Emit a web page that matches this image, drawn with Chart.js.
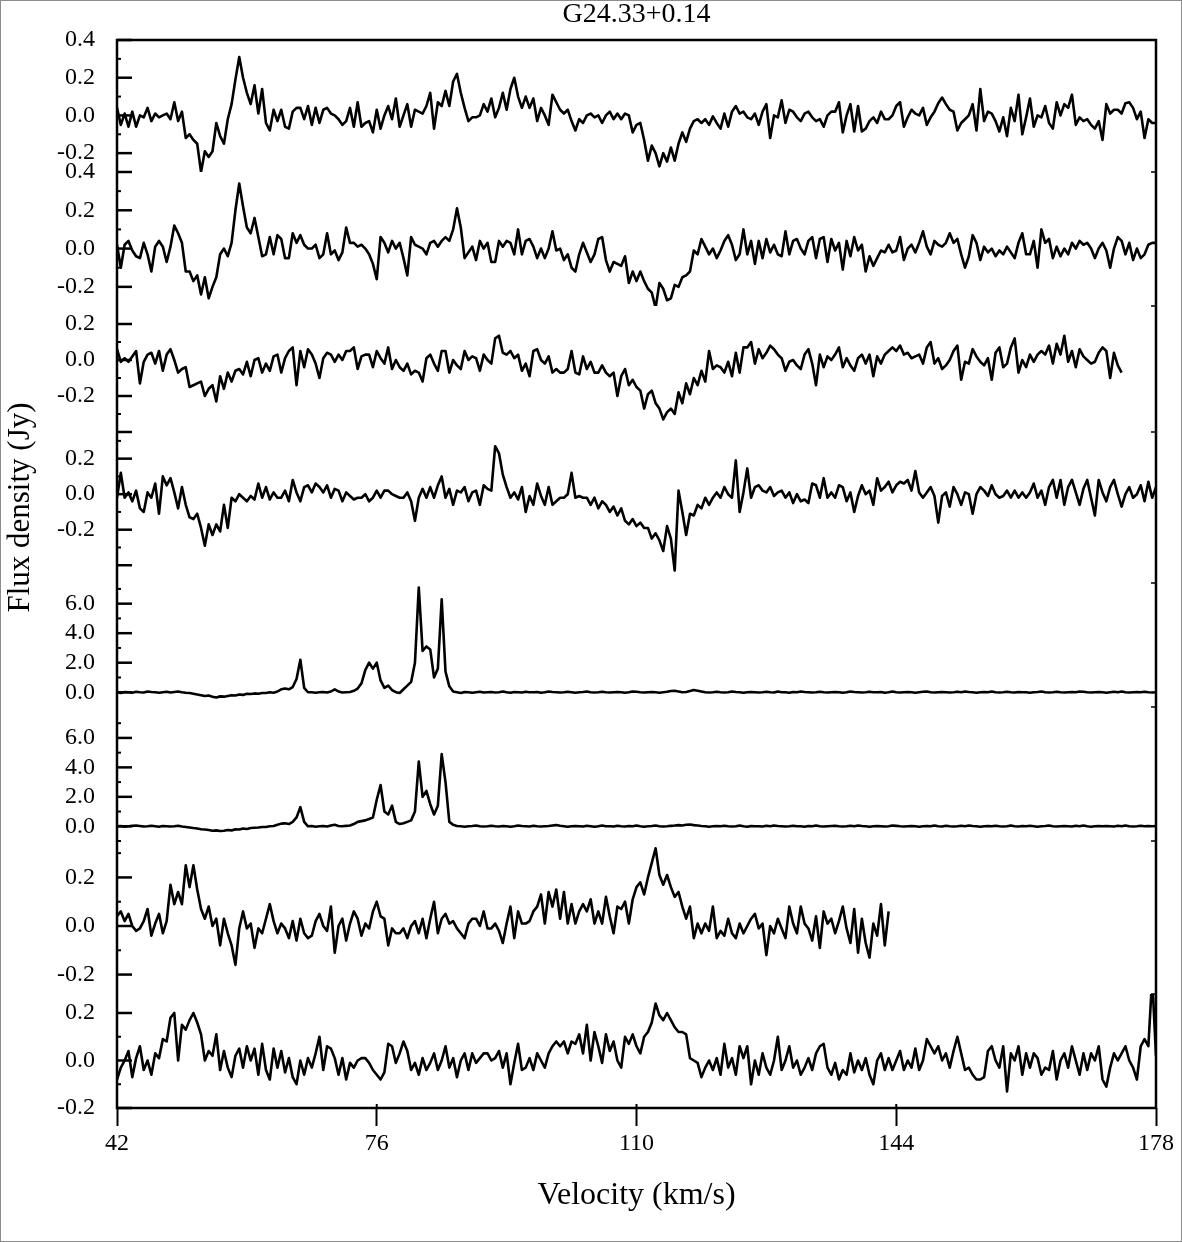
<!DOCTYPE html>
<html>
<head>
<meta charset="utf-8">
<title>G24.33+0.14</title>
<script src="https://cdn.jsdelivr.net/npm/chart.js@4.4.1/dist/chart.umd.min.js"></script>
<style>
    html, body { margin: 0; padding: 0; background: #fff; }
    #frame { width: 1180px; height: 1240px; border: 1px solid #8c8c8c; }
    canvas { display: block; }
</style>
</head>
<body>
<div id="frame"><canvas id="spectraChart" width="1180" height="1240"></canvas></div>
<script>
// Velocity channels: first channel and channel width (km/s)
const V_START = 42;
const V_STEP = 0.5;
const velocityTicks = [42, 76, 110, 144, 178];

// Flux density (Jy) per panel, top to bottom, one value per channel
const flux1 = [
    0.04, -0.05, 0.01, -0.06, 0.02, -0.06, 0.0, -0.01, 0.04, -0.03,
    0.01, -0.01, 0.0, 0.01, -0.02, 0.07, -0.03, 0.02, -0.12, -0.1,
    -0.13, -0.15, -0.3, -0.19, -0.22, -0.19, -0.04, -0.11, -0.15, -0.02,
    0.06, 0.19, 0.31, 0.2, 0.12, 0.06, 0.16, 0.01, 0.14, -0.04,
    -0.08, 0.03, -0.03, 0.03, -0.06, -0.07, 0.02, 0.04, 0.04, -0.02,
    0.05, -0.05, 0.04, -0.04, 0.03, 0.04, 0.01, 0.0, -0.02, -0.05,
    -0.03, 0.04, -0.06, 0.07, -0.06, -0.04, -0.03, -0.09, 0.03, -0.07,
    0.0, 0.05, -0.02, 0.09, -0.06, 0.0, 0.06, -0.06, 0.03, 0.02,
    0.01, 0.05, 0.12, -0.07, 0.07, 0.05, 0.13, 0.05, 0.18, 0.22,
    0.12, 0.04, -0.03, -0.01, -0.01, 0.0, 0.06, 0.02, 0.09, -0.01,
    0.04, 0.12, 0.03, 0.14, 0.2, 0.1, 0.04, 0.1, 0.04, 0.09,
    -0.03, 0.04, 0.0, -0.05, 0.11, 0.07, 0.03, 0.01, 0.03, -0.03,
    -0.08, -0.02, -0.04, 0.0, 0.01, -0.01, 0.0, -0.04, 0.0, 0.02,
    -0.02, 0.01, -0.02, 0.01, 0.0, -0.09, -0.05, -0.04, -0.13, -0.24,
    -0.16, -0.2, -0.27, -0.2, -0.245, -0.17, -0.24, -0.15, -0.09, -0.14,
    -0.07, -0.03, -0.02, -0.04, -0.02, -0.05, -0.005, -0.04, -0.07, 0.01,
    -0.06, 0.02, 0.05, 0.01, 0.02, -0.01, -0.02, 0.01, -0.05, 0.02,
    0.06, -0.12, 0.0, -0.01, 0.08, -0.04, 0.03, 0.02, -0.01, -0.03,
    0.01, 0.02, -0.01, -0.03, -0.02, -0.06, 0.0, 0.02, 0.02, 0.07,
    -0.09, 0.0, 0.06, -0.085, 0.05, -0.085, -0.07, -0.03, -0.01, -0.04,
    0.02, -0.02, -0.02, 0.0, 0.05, 0.07, -0.06, -0.01, 0.03, 0.01,
    0.0, 0.04, -0.05, -0.01, 0.02, 0.065, 0.095, 0.06, 0.03, 0.02,
    -0.08, -0.04, -0.02, 0.0, 0.06, -0.08, 0.14, -0.03, 0.02, 0.01,
    -0.03, -0.085, -0.01, -0.11, 0.04, -0.03, 0.11, -0.1, -0.01, 0.09,
    -0.06, 0.0, -0.01, 0.05, -0.04, -0.07, 0.07, 0.0, 0.06, 0.04,
    0.11, -0.05, -0.01, -0.03, -0.02, -0.05, -0.07, -0.03, -0.13, 0.06,
    0.01, 0.03, 0.03, 0.01, 0.065, 0.07, 0.04, -0.02, 0.02, -0.12,
    -0.02, -0.04, -0.04
];
const flux2 = [
    0.02, -0.1, 0.02, 0.04, -0.01, -0.04, -0.05, 0.03, -0.03, -0.12,
    0.01, 0.04, 0.01, -0.07, 0.01, 0.12, 0.08, 0.03, -0.12, -0.12,
    -0.17, -0.14, -0.24, -0.15, -0.26, -0.2, -0.15, -0.03, 0.0, -0.04,
    0.03, 0.2, 0.34, 0.22, 0.11, 0.08, 0.16, 0.06, -0.04, -0.03,
    0.06, -0.03, 0.07, 0.05, -0.05, -0.05, 0.08, 0.03, 0.07, 0.02,
    0.0, 0.0, 0.02, -0.05, -0.03, 0.08, -0.03, -0.01, -0.06, -0.02,
    0.11, 0.03, 0.03, 0.01, 0.02, 0.0, -0.03, -0.08, -0.16, 0.06,
    0.03, -0.02, 0.04, 0.0, 0.03, -0.05, -0.14, 0.06, 0.02, 0.01,
    0.0, -0.03, 0.03, 0.04, 0.01, 0.04, 0.06, 0.04, 0.1, 0.21,
    0.11, -0.05, -0.02, 0.01, -0.06, 0.04, 0.0, 0.03, -0.07, -0.07,
    0.04, 0.01, 0.04, 0.03, -0.03, 0.1, -0.03, 0.04, 0.05, 0.01,
    -0.05, 0.0, -0.05, 0.0, 0.09, -0.01, 0.0, -0.06, -0.03, -0.1,
    -0.12, -0.03, 0.03, -0.02, -0.07, -0.03, 0.05, 0.06, -0.06, -0.12,
    -0.07, -0.08, -0.09, -0.04, -0.18, -0.12, -0.17, -0.12, -0.17, -0.21,
    -0.23, -0.31, -0.18, -0.21, -0.27, -0.26, -0.19, -0.2, -0.15, -0.14,
    -0.12, -0.01, -0.03, 0.05, 0.01, -0.03, 0.0, -0.05, -0.01, 0.04,
    0.07, 0.02, -0.06, -0.03, 0.1, -0.03, 0.04, -0.08, 0.04, -0.05,
    0.05, -0.02, 0.02, -0.03, -0.04, 0.09, -0.03, 0.04, 0.05, 0.0,
    -0.03, 0.04, 0.06, -0.05, 0.05, 0.06, -0.07, 0.05, -0.01, 0.03,
    -0.11, 0.04, -0.04, 0.06, -0.01, 0.02, -0.12, -0.04, -0.09, -0.05,
    -0.01, -0.02, 0.02, -0.02, -0.01, 0.06, -0.06, 0.0, 0.02, -0.02,
    0.03, 0.09, 0.01, -0.03, 0.04, 0.02, 0.01, 0.03, 0.08, 0.03,
    0.05, -0.03, -0.1, -0.04, 0.07, 0.03, -0.06, 0.01, -0.02, 0.0,
    -0.04, -0.01, -0.03, 0.01, -0.02, -0.05, 0.03, 0.08, -0.03, -0.03,
    0.04, -0.1, 0.1, 0.03, 0.05, -0.05, 0.01, -0.04, 0.0, -0.03,
    0.03, 0.0, 0.04, 0.02, 0.03, 0.0, -0.05, 0.0, 0.03, -0.01,
    -0.1, 0.0, 0.06, 0.04, -0.03, 0.03, -0.06, 0.0, -0.05, -0.03,
    0.02, 0.03, 0.03
];
const flux3 = [
    0.06, -0.01, 0.01, -0.01, 0.02, 0.05, -0.13, -0.01, 0.03, 0.04,
    -0.02, 0.05, -0.06, 0.03, 0.06, 0.0, -0.07, -0.05, -0.04, -0.15,
    -0.14, -0.13, -0.12, -0.2, -0.16, -0.14, -0.23, -0.09, -0.16, -0.07,
    -0.12, -0.06, -0.05, -0.08, -0.01, -0.09, 0.0, 0.01, -0.07, -0.02,
    -0.06, 0.02, 0.03, -0.07, 0.01, 0.05, 0.07, -0.14, 0.05, -0.04,
    0.06, 0.03, -0.02, -0.1, 0.01, 0.04, 0.03, -0.01, 0.03, 0.0,
    0.05, 0.05, 0.07, -0.05, 0.02, 0.03, 0.03, -0.04, 0.05, 0.01,
    -0.02, 0.07, -0.05, 0.0, -0.04, -0.06, -0.02, -0.08, -0.06, -0.07,
    -0.12, 0.01, 0.03, -0.02, -0.06, 0.05, 0.05, -0.07, 0.0, -0.03,
    -0.05, 0.05, 0.0, 0.02, 0.01, -0.06, 0.03, 0.0, -0.02, 0.12,
    0.135, 0.04, 0.03, 0.05, 0.01, 0.03, -0.06, -0.02, -0.09, 0.05,
    0.06, 0.0, -0.02, 0.02, -0.07, -0.05, -0.07, -0.07, -0.05, 0.05,
    -0.07, -0.08, 0.02, -0.05, -0.01, -0.07, -0.07, -0.03, -0.07, -0.09,
    -0.07, -0.2, -0.09, -0.05, -0.14, -0.11, -0.15, -0.17, -0.27, -0.19,
    -0.17, -0.24, -0.27, -0.33, -0.29, -0.27, -0.3, -0.18, -0.24, -0.13,
    -0.19, -0.1, -0.14, -0.06, -0.12, 0.05, -0.05, -0.03, -0.04, -0.07,
    -0.01, -0.09, 0.04, -0.07, 0.07, 0.07, 0.1, -0.02, 0.06, 0.01,
    0.04, 0.08, 0.06, 0.03, 0.01, -0.06, -0.01, 0.0, -0.03, -0.05,
    0.03, 0.06, -0.02, -0.14, 0.03, -0.04, 0.02, 0.0, 0.03, 0.07,
    -0.04, 0.01, -0.03, -0.06, 0.01, 0.03, -0.02, 0.03, -0.09, 0.02,
    -0.02, 0.03, 0.05, 0.07, 0.05, 0.08, 0.03, 0.04, 0.01, 0.02,
    0.03, -0.02, 0.07, 0.1, -0.02, 0.01, -0.05, -0.03, 0.0, 0.05,
    0.08, -0.11, -0.01, -0.02, 0.06, 0.02, -0.01, -0.03, 0.01, -0.11,
    0.04, 0.07, -0.04, -0.02, 0.07, 0.12, -0.07, 0.0, -0.04, 0.03,
    -0.01, 0.03, 0.05, 0.03, 0.08, -0.02, 0.09, 0.03, 0.135, -0.01,
    0.05, -0.04, 0.06, 0.02, 0.0, -0.02, -0.01, 0.04, 0.07, 0.05,
    -0.1, 0.04, -0.03, -0.07
];
const flux4 = [
    -0.02, 0.12, -0.02, 0.01, -0.04, 0.02, -0.08, -0.1, 0.01, -0.02,
    0.06, -0.11, 0.1, 0.05, 0.09, 0.01, -0.08, 0.04, -0.06, -0.13,
    -0.14, -0.11, -0.19, -0.29, -0.17, -0.23, -0.17, -0.21, -0.06, -0.19,
    -0.02, -0.04, 0.0, -0.02, -0.04, -0.01, -0.03, 0.06, -0.02, 0.04,
    -0.03, 0.01, -0.02, -0.02, 0.02, -0.04, 0.08, 0.01, -0.04, 0.04,
    0.05, 0.01, 0.06, 0.04, 0.01, 0.05, -0.02, 0.03, 0.02, -0.04,
    0.01, -0.01, -0.03, -0.02, -0.02, 0.0, -0.04, -0.02, 0.02, -0.02,
    0.02, 0.02, 0.0, -0.01, -0.02, -0.02, 0.01, -0.04, -0.15, -0.02,
    0.03, -0.02, 0.04, -0.02, 0.05, 0.1, -0.02, 0.03, -0.06, 0.02,
    0.01, 0.04, -0.04, 0.01, 0.02, -0.06, 0.05, 0.03, 0.02, 0.27,
    0.23, 0.11, 0.04, -0.02, 0.01, -0.03, 0.04, -0.1, -0.01, -0.06,
    0.06, -0.01, -0.06, 0.04, -0.06, -0.04, -0.02, -0.02, 0.0, 0.12,
    -0.02, -0.01, -0.02, -0.02, -0.06, -0.02, -0.08, -0.04, -0.06, -0.1,
    -0.07, -0.12, -0.08, -0.15, -0.17, -0.14, -0.18, -0.16, -0.19, -0.19,
    -0.25, -0.22, -0.26, -0.32, -0.18, -0.25, -0.43, 0.02, -0.1, -0.23,
    -0.11, -0.12, -0.06, -0.08, -0.02, -0.06, -0.02, 0.01, -0.02, 0.04,
    0.0, -0.02, 0.19, -0.1, 0.01, 0.145, -0.02, 0.04, 0.05, 0.02,
    0.01, 0.04, -0.01, 0.01, 0.02, -0.02, 0.01, -0.05, 0.0, -0.04,
    -0.03, -0.05, 0.06, 0.05, -0.02, 0.09, -0.02, 0.01, -0.02, 0.05,
    0.04, -0.04, 0.01, -0.1, -0.01, 0.05, 0.0, 0.02, -0.06, 0.09,
    0.02, 0.04, 0.07, 0.01, 0.05, 0.07, 0.06, 0.08, 0.02, 0.13,
    0.01, -0.02, 0.01, 0.04, -0.01, -0.16, -0.01, 0.01, -0.07, 0.04,
    0.0, -0.06, 0.01, 0.0, -0.11, 0.0, 0.04, 0.02, -0.01, 0.05,
    0.0, -0.02, -0.01, 0.02, -0.02, 0.02, -0.02, 0.01, -0.02, 0.01,
    0.06, -0.02, 0.02, -0.06, 0.04, 0.08, -0.02, 0.08, -0.06, 0.04,
    0.08, 0.01, -0.06, 0.03, 0.08, -0.02, -0.12, 0.08, 0.01, -0.04,
    0.04, 0.08, 0.0, -0.07, 0.0, 0.04, -0.02, 0.0, 0.05, -0.04,
    0.07, -0.02, 0.04
];
const flux5 = [
    0.0, -0.05, 0.02, 0.0, -0.03, 0.03, 0.0, -0.02, 0.05, 0.02,
    0.0, -0.04, 0.0, 0.03, -0.02, 0.02, 0.05, 0.0, -0.03, -0.05,
    -0.1, -0.15, -0.2, -0.25, -0.22, -0.3, -0.35, -0.28, -0.3, -0.25,
    -0.2, -0.22, -0.15, -0.18, -0.1, -0.12, -0.08, -0.1, -0.05,
    -0.05, 0.0, -0.03, 0.05, 0.2, 0.25, 0.2, 0.35,
    0.9, 2.2, 0.3, 0.0,
    0.0, -0.03, 0.0, 0.02, -0.02, 0.05, 0.2, 0.05, -0.02, 0.0, 0.02,
    0.1, 0.25, 0.6,
    1.5, 2.0, 1.6, 2.0, 0.8, 0.3, 0.45, 0.15, 0.0, -0.05, 0.2, 0.45,
    0.7, 2.0, 7.1, 2.8, 3.1, 2.9, 1.0, 1.6, 6.3, 1.4, 0.4, 0.05,
    0.0, -0.05, 0.02, 0.0, -0.03, 0.0, 0.03, -0.02, 0.0, 0.02,
    -0.02, 0.0, 0.05, 0.0, -0.03, 0.02, 0.0, -0.02, 0.03, 0.0,
    0.0, 0.02, -0.03, 0.0, 0.05, 0.02, 0.0, -0.02, 0.0, 0.03,
    0.0, -0.03, 0.0, 0.02, 0.05, 0.0, -0.02, 0.0, 0.03, 0.0,
    -0.02, 0.0, 0.02, 0.0, -0.03, 0.0, 0.05, 0.03, 0.0, -0.02,
    0.0, 0.02, 0.0, -0.03, 0.0, 0.03, 0.08, 0.1, 0.05, 0.0,
    0.02, 0.08, 0.15, 0.1, 0.05, 0.0, -0.02, 0.0, 0.03, 0.0,
    -0.02, 0.0, 0.05, 0.02, 0.0, -0.03, 0.0, 0.02, 0.0, -0.02,
    0.0, 0.03, 0.0, -0.02, 0.05, 0.0, 0.0, -0.03, 0.02, 0.0,
    0.05, 0.02, 0.0, -0.02, 0.0, 0.03, 0.0, -0.02, 0.0, 0.02,
    0.0, -0.03, 0.0, 0.05, 0.02, 0.0, -0.02, 0.0, 0.03, 0.0,
    0.0, 0.02, -0.03, 0.0, 0.05, 0.0, -0.02, 0.0, 0.02, 0.0,
    -0.03, 0.0, 0.03, 0.05, 0.0, -0.02, 0.0, 0.02, 0.0, -0.02,
    0.0, 0.03, 0.0, 0.05, 0.02, 0.0, -0.03, 0.0, 0.02, 0.0,
    0.05, 0.0, -0.02, 0.0, 0.03, 0.0, -0.02, 0.02, 0.0, 0.0,
    -0.03, 0.0, 0.02, 0.05, 0.0, -0.02, 0.0, 0.03, 0.0, -0.02,
    0.0, 0.02, 0.0, 0.05, 0.03, 0.0, -0.02, 0.0, 0.02, 0.0,
    -0.03, 0.0, 0.03, 0.0, 0.05, 0.0, -0.02, 0.0, 0.02, 0.0,
    0.03, 0.0, -0.02, 0.0
];
const flux6 = [
    0.0, 0.02, -0.03, 0.0, 0.03, 0.05, 0.02, -0.02, 0.0, 0.03,
    0.0, -0.03, 0.02, 0.0, -0.02, 0.0, 0.03, -0.02, -0.05, -0.08,
    -0.12, -0.15, -0.2, -0.22, -0.25, -0.3, -0.28, -0.32, -0.3, -0.25,
    -0.28, -0.2, -0.22, -0.15, -0.18, -0.12, -0.1, -0.08, -0.05,
    -0.05, 0.0, 0.02, 0.1, 0.18, 0.2, 0.15, 0.3,
    0.6, 1.3, 0.3, 0.0,
    0.02, -0.03, 0.0, 0.02, -0.02, 0.05, 0.1, 0.02, 0.0, 0.03, 0.05,
    0.15, 0.3, 0.35, 0.4, 0.5,
    0.6, 1.8, 2.8, 1.0, 0.8, 1.4, 0.3, 0.15, 0.2, 0.3, 0.4,
    1.0, 4.4, 2.0, 2.4, 1.5, 0.8, 1.4, 4.9, 3.0, 0.3, 0.1,
    0.02, 0.0, -0.03, 0.0, 0.02, 0.05, 0.0, -0.02, 0.0, 0.03,
    0.0, -0.02, 0.02, 0.0, -0.03, 0.0, 0.05, 0.02, 0.0, -0.02,
    0.03, 0.0, -0.02, 0.0, 0.02, 0.05, 0.08, 0.03, 0.0, -0.03,
    0.0, 0.02, 0.0, -0.02, 0.03, 0.0, -0.03, 0.0, 0.05, 0.0,
    0.0, -0.02, 0.03, 0.0, -0.02, 0.02, 0.0, 0.05, 0.0, -0.03,
    0.0, 0.02, 0.05, 0.0, -0.02, 0.0, 0.03, 0.05, 0.08, 0.05,
    0.1, 0.12, 0.08, 0.05, 0.02, 0.0, -0.03, 0.0, 0.02, 0.0,
    0.03, 0.0, -0.02, 0.0, 0.05, 0.0, -0.03, 0.02, 0.0, 0.0,
    -0.02, 0.03, 0.0, 0.05, 0.02, 0.0, -0.02, 0.0, 0.03, 0.0,
    0.0, -0.03, 0.02, 0.0, 0.05, 0.0, -0.02, 0.0, 0.02, 0.03,
    0.0, -0.02, 0.0, 0.03, 0.0, 0.05, 0.02, 0.0, -0.03, 0.0,
    0.02, 0.0, -0.02, 0.0, 0.05, 0.03, 0.0, -0.02, 0.0, 0.02,
    0.0, -0.03, 0.0, 0.02, 0.0, 0.05, 0.0, -0.02, 0.03, 0.0,
    -0.02, 0.0, 0.03, 0.0, 0.05, 0.02, 0.0, -0.03, 0.0, 0.02,
    0.0, 0.03, 0.0, -0.02, 0.0, 0.05, 0.0, -0.02, 0.02, 0.0,
    0.03, 0.0, -0.03, 0.0, 0.02, 0.05, 0.0, -0.02, 0.0, 0.02,
    0.0, -0.02, 0.03, 0.0, 0.05, 0.0, -0.03, 0.0, 0.02, 0.0,
    0.02, 0.0, -0.02, 0.03, 0.0, 0.05, 0.0, -0.02, 0.0, 0.03,
    0.0, 0.02, 0.0, 0.02
];
const flux7 = [
    0.04, 0.06, 0.02, 0.05, 0.0, -0.02, -0.01, 0.02, 0.07, -0.04,
    0.01, 0.05, -0.03, 0.02, 0.17, 0.09, 0.14, 0.09, 0.25, 0.16,
    0.25, 0.15, 0.07, 0.03, 0.08, 0.0, 0.03, -0.08, 0.03, -0.03,
    -0.08, -0.16, -0.01, 0.06, -0.01, 0.01, -0.09, -0.01, -0.03, 0.03,
    0.09, 0.02, -0.03, 0.01, -0.01, -0.05, 0.02, -0.06, 0.03, -0.03,
    -0.05, -0.04, 0.02, 0.05, 0.0, -0.02, 0.08, -0.11, 0.0, 0.03,
    -0.06, 0.01, 0.06, 0.03, -0.04, 0.01, -0.01, 0.06, 0.1, 0.04,
    0.03, -0.08, -0.01, -0.03, -0.03, -0.01, -0.05, 0.0, 0.02, -0.03,
    0.03, -0.05, 0.03, 0.1, -0.03, 0.03, 0.05, 0.01, 0.02, -0.01,
    -0.03, -0.05, 0.01, 0.03, 0.03, 0.0, 0.06, -0.01, -0.01, 0.01,
    -0.02, -0.07, 0.01, 0.08, -0.05, 0.06, 0.01, 0.01, 0.02, 0.06,
    0.08, 0.13, 0.01, 0.14, 0.08, 0.15, 0.03, 0.14, 0.01, 0.09,
    0.01, 0.06, 0.09, 0.06, 0.11, 0.01, 0.06, 0.01, 0.12, 0.04,
    -0.03, 0.08, 0.07, 0.1, 0.01, 0.11, 0.16, 0.18, 0.13, 0.2,
    0.26, 0.32, 0.21, 0.17, 0.21, 0.16, 0.12, 0.14, 0.08, 0.03,
    0.08, -0.05, 0.01, -0.03, 0.01, -0.02, 0.08, -0.05, -0.02, -0.04,
    0.03, -0.03, -0.05, 0.01, -0.03, 0.0, 0.03, 0.05, -0.01, 0.01,
    -0.12, 0.0, -0.03, 0.03, -0.01, -0.05, 0.08, 0.01, -0.03, 0.08,
    0.01, -0.01, -0.06, 0.04, -0.09, 0.06, 0.01, 0.03, -0.03, 0.02,
    0.08, -0.01, -0.07, 0.07, -0.11, 0.03, -0.07, -0.13, 0.01, -0.04,
    0.09, -0.08, 0.06
];
const flux8 = [
    -0.08, -0.03, 0.0, 0.04, -0.07, 0.01, 0.06, -0.04, 0.0, -0.06,
    0.03, 0.01, 0.09, 0.08, 0.18, 0.2, 0.0, 0.15, 0.13, 0.17,
    0.2, 0.16, 0.11, 0.0, 0.04, 0.02, 0.11, -0.04, 0.04, -0.03,
    -0.07, 0.02, 0.05, -0.03, 0.06, 0.0, 0.05, -0.06, 0.07, -0.04,
    -0.08, 0.05, -0.03, 0.04, -0.05, 0.01, -0.07, -0.1, 0.0, -0.06,
    0.01, -0.03, 0.03, 0.1, -0.04, 0.06, 0.05, 0.01, -0.06, 0.01,
    -0.08, -0.01, -0.03, 0.0, 0.01, 0.01, -0.01, -0.04, -0.06, -0.08,
    -0.05, 0.07, 0.06, -0.01, 0.03, 0.08, 0.04, -0.04, -0.01, -0.06,
    0.01, -0.04, -0.01, 0.03, -0.04, 0.0, 0.06, -0.03, 0.01, -0.07,
    0.0, 0.03, -0.04, 0.03, -0.01, 0.01, 0.03, 0.03, 0.0, 0.01,
    0.04, -0.03, 0.03, -0.1, -0.01, 0.07, -0.04, -0.03, 0.01, -0.04,
    0.03, 0.0, -0.03, 0.03, 0.06, 0.08, 0.06, 0.08, 0.03, 0.08,
    0.07, 0.11, 0.03, 0.15, 0.0, 0.12, 0.06, -0.01, 0.11, 0.04,
    0.08, 0.0, -0.03, 0.1, 0.07, 0.11, 0.06, 0.03, 0.1, 0.12,
    0.16, 0.24, 0.19, 0.17, 0.2, 0.17, 0.14, 0.12, 0.12, 0.11,
    0.01, 0.0, -0.01, -0.07, -0.03, 0.0, -0.04, 0.01, -0.06, 0.07,
    -0.03, 0.01, -0.06, 0.06, 0.01, 0.06, -0.1, 0.0, -0.06, 0.03,
    -0.03, -0.06, 0.0, 0.1, -0.04, 0.0, 0.06, -0.03, 0.0, -0.06,
    -0.03, 0.01, -0.04, 0.03, 0.06, 0.07, -0.03, -0.06, -0.01, -0.08,
    -0.04, -0.06, 0.03, -0.05, 0.0, -0.04, 0.01, -0.06, -0.1, 0.0,
    0.03, -0.04, 0.01, -0.04, 0.0, 0.04, -0.04, 0.0, -0.03, 0.05,
    -0.04, 0.0, 0.09, 0.06, 0.03, 0.06, 0.0, 0.03, -0.03, 0.04,
    0.1, 0.03, -0.04, -0.03, -0.06, -0.08, -0.08, -0.07, 0.04, 0.06,
    0.0, -0.03, 0.06, -0.13, 0.03, 0.0, 0.06, -0.06, 0.03, -0.03,
    0.03, 0.01, -0.06, -0.03, -0.04, 0.04, -0.08, 0.0, 0.03, -0.03,
    0.06, 0.0, -0.06, 0.03, -0.04, 0.03, 0.0, 0.06, -0.08, -0.11,
    -0.03, 0.03, 0.0, 0.03, 0.06, 0.0, -0.03, -0.08, 0.06, 0.09,
    0.06, 0.35, 0.02
];

// Per-panel y range, labelled ticks, extra unlabelled major ticks and minor ticks
const panelLimits = [[-0.3, 0.4], [-0.3, 0.4], [-0.4, 0.3], [-0.5, 0.35], [-1, 7.4], [-1, 8.1], [-0.28, 0.35], [-0.2, 0.28]];
const panelLabels = [[0.4, 0.2, 0, -0.2], [0.4, 0.2, 0, -0.2], [0.2, 0, -0.2], [0.2, 0, -0.2], [6, 4, 2, 0], [6, 4, 2, 0], [0.2, 0, -0.2], [0.2, 0, -0.2]];
const panelExtraMajor = [[], [], [-0.4], [-0.4], [], [], [], []];
const panelMinor = [[0.3, 0.1, -0.1], [0.3, 0.1, -0.1], [0.1, -0.1, -0.3], [0.3, 0.1, -0.1, -0.3], [7, 5, 3, 1], [7, 5, 3, 1, -1], [0.3, 0.1, -0.1], [0.1, -0.1]];
// relative heights of the stacked panels
const panelWeights = [132, 134, 126, 151, 124, 134, 153, 114];

const allFlux = [flux1, flux2, flux3, flux4, flux5, flux6, flux7, flux8];

const serif = "'Liberation Serif', 'Times New Roman', serif";
const tickFont = {family: serif, size: 24};

function toPoints(values) {
    return values.map((y, i) => ({x: V_START + i * V_STEP, y: y}));
}

const scales = {
    x: {
        type: 'linear',
        min: 42,
        max: 178,
        afterBuildTicks: function(axis) {
            axis.ticks = velocityTicks.map(v => ({value: v}));
        },
        afterFit: function(axis) {
            axis.height = 133;
        },
        border: {display: false},
        grid: {drawOnChartArea: false, drawTicks: true, tickLength: 18, tickWidth: 2, tickColor: '#000'},
        ticks: {
            padding: 3,
            color: '#000',
            font: tickFont,
            maxRotation: 0,
            autoSkip: false,
            callback: function(value) {
                return String(value);
            }
        },
        title: {
            display: true,
            text: 'Velocity (km/s)',
            color: '#000',
            font: {family: serif, size: 32},
            padding: {top: 0, bottom: 26}
        }
    }
};

panelLimits.forEach(function(lim, k) {
    scales['y' + k] = {
        type: 'linear',
        position: 'left',
        stack: 'spectra',
        stackWeight: panelWeights[k],
        weight: 8 - k,
        min: lim[0],
        max: lim[1],
        afterBuildTicks: function(axis) {
            axis.ticks = panelLabels[k].map(v => ({value: v}));
        },
        afterFit: function(axis) {
            axis.width = 116;
        },
        border: {display: false},
        grid: {display: false, drawTicks: false},
        ticks: {
            autoSkip: false,
            padding: 22,
            color: '#000',
            font: tickFont,
            callback: function(value) {
                return value.toFixed(1);
            }
        },
        title: k === 3 ? {
            display: true,
            text: 'Flux density (Jy)',
            color: '#000',
            font: {family: serif, size: 31},
            padding: {top: 1, bottom: 0}
        } : {display: false}
    };
});

// Inward axis ticks and the box around the plot
const axisFrame = {
    id: 'axisFrame',
    afterDraw: function(chart) {
        const ctx = chart.ctx;
        const area = chart.chartArea;
        ctx.save();
        ctx.strokeStyle = '#000';
        panelLimits.forEach(function(lim, k) {
            const axis = chart.scales['y' + k];
            const mark = function(v, len, w) {
                const y = axis.getPixelForValue(v);
                ctx.lineWidth = w;
                ctx.beginPath();
                ctx.moveTo(area.left, y);
                ctx.lineTo(area.left + len, y);
                ctx.stroke();
            };
            panelLabels[k].concat(panelExtraMajor[k]).forEach(v => mark(v, 15, 2.5));
            panelMinor[k].forEach(v => mark(v, 4, 2));
            if (k > 0) {
                ctx.lineWidth = 1.5;
                ctx.beginPath();
                ctx.moveTo(area.right, axis.top);
                ctx.lineTo(area.right - 5, axis.top);
                ctx.stroke();
            }
        });
        // velocity ticks poke slightly into the plot
        const xAxis = chart.scales.x;
        ctx.lineWidth = 2;
        velocityTicks.forEach(function(v) {
            const x = xAxis.getPixelForValue(v);
            ctx.beginPath();
            ctx.moveTo(x, area.bottom);
            ctx.lineTo(x, area.bottom - 4);
            ctx.stroke();
        });
        ctx.lineWidth = 2.5;
        ctx.strokeRect(area.left, area.top, area.right - area.left, area.bottom - area.top);
        ctx.restore();
    }
};

const ctx = document.getElementById('spectraChart').getContext('2d');
const chart = new Chart(ctx, {
    type: 'line',
    data: {
        datasets: allFlux.map(function(values, k) {
            return {
                label: 'panel ' + (k + 1),
                data: toPoints(values),
                yAxisID: 'y' + k,
                borderColor: '#000',
                borderWidth: 2.6,
                borderJoinStyle: 'round',
                pointRadius: 0,
                tension: 0,
                fill: false
            };
        })
    },
    options: {
        responsive: false,
        animation: false,
        devicePixelRatio: 1,
        events: [],
        layout: {padding: {left: 0, right: 25, top: 0, bottom: 0}},
        scales: scales,
        plugins: {
            legend: {display: false},
            tooltip: {enabled: false},
            title: {
                display: true,
                fullSize: false,
                text: 'G24.33+0.14',
                color: '#000',
                font: {family: serif, size: 28, weight: 'normal', lineHeight: 1},
                padding: {top: 0, bottom: 11}
            }
        }
    },
    plugins: [axisFrame]
});
</script>
</body>
</html>
